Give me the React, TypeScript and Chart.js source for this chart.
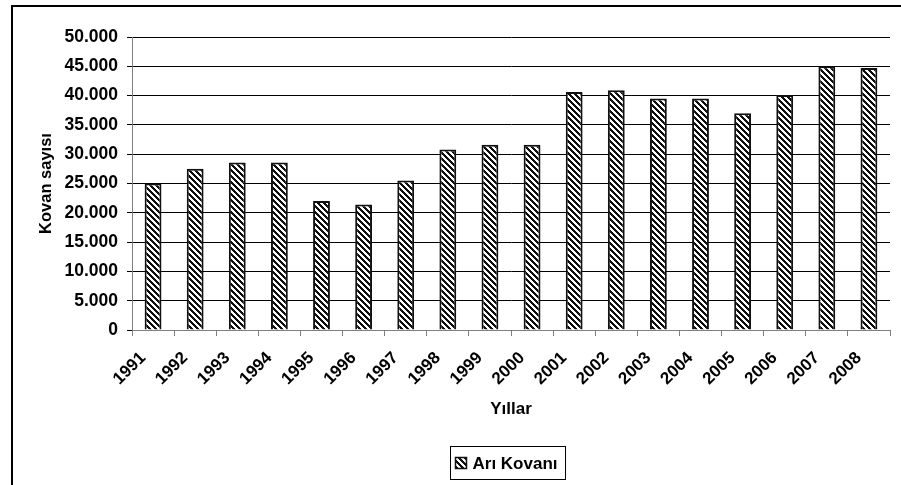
import React, { useEffect, useRef } from "react";
import { Chart, registerables } from "chart.js";

Chart.register(...registerables);

const years = ["1991","1992","1993","1994","1995","1996","1997","1998","1999","2000","2001","2002","2003","2004","2005","2006","2007","2008"];
const hives = [25000,27500,28600,28600,22000,21400,25500,30800,31600,31600,40600,40900,39500,39500,37000,40100,45000,44700];
const seriesName = "Arı Kovanı";
const xTitle = "Yıllar";
const yTitle = "Kovan sayısı";

function makePattern(): CanvasPattern | string {
  const n = 6;
  const c = document.createElement("canvas");
  c.width = n;
  c.height = n;
  const g = c.getContext("2d");
  if (!g) return "#555";
  const img = g.createImageData(n, n);
  for (let y = 0; y < n; y++) {
    for (let x = 0; x < n; x++) {
      const dark = ((x - y + 2 * n) % n) < 3;
      const i = (y * n + x) * 4;
      const v = dark ? 15 : 255;
      img.data[i] = v;
      img.data[i + 1] = v;
      img.data[i + 2] = v;
      img.data[i + 3] = 255;
    }
  }
  g.putImageData(img, 0, 0);
  const p = g.createPattern(c, "repeat");
  return p || "#555";
}

const fmt = (v: number) => {
  const s = String(Math.round(v));
  return s.replace(/\B(?=(\d{3})+(?!\d))/g, ".");
};

const FONT = "'Liberation Sans', Arial, sans-serif";

export default function App() {
  const ref = useRef<HTMLCanvasElement | null>(null);
  useEffect(() => {
    document.body.style.margin = "0";
    const canvas = ref.current;
    if (!canvas) return;
    const pattern = makePattern();

    const framePlugin = {
      id: "frame",
      beforeDraw(chart: any) {
        const ctx = chart.ctx;
        ctx.save();
        ctx.fillStyle = "#fff";
        ctx.fillRect(0, 0, chart.width, chart.height);
        ctx.strokeStyle = "#000";
        ctx.lineWidth = 2;
        ctx.beginPath();
        ctx.moveTo(12, chart.height);
        ctx.lineTo(12, 6);
        ctx.lineTo(chart.width, 6);
        ctx.stroke();
        ctx.restore();
      },
      afterDraw(chart: any) {
        const ctx = chart.ctx;
        const ca = chart.chartArea;
        ctx.save();
        ctx.font = `bold 17px ${FONT}`;
        const tw = ctx.measureText(seriesName).width;
        const mk = 11;
        const padL = 5, gap = 6, padR = 8;
        const w = padL + mk + gap + tw + padR;
        const h = 33;
        const cx = (ca.left + ca.right) / 2 - 3;
        const x0 = Math.round(cx - w / 2) + 0.5;
        const y0 = 446.5;
        ctx.strokeStyle = "#000";
        ctx.lineWidth = 1;
        ctx.strokeRect(x0, y0, w, h);
        const my = y0 + h / 2 - mk / 2;
        ctx.fillStyle = pattern as any;
        ctx.fillRect(x0 + padL, my, mk, mk);
        ctx.lineWidth = 1.5;
        ctx.strokeStyle = "#111";
        ctx.strokeRect(x0 + padL, my, mk, mk);
        ctx.fillStyle = "#000";
        ctx.textBaseline = "middle";
        ctx.textAlign = "left";
        ctx.fillText(seriesName, x0 + padL + mk + gap, y0 + h / 2 + 1);
        ctx.restore();
      },
    };

    const chart = new Chart(canvas, {
      type: "bar",
      data: {
        labels: years,
        datasets: [
          {
            label: seriesName,
            data: hives,
            backgroundColor: pattern as any,
            borderColor: "#111",
            borderWidth: 2,
            categoryPercentage: 1,
            barPercentage: 0.4,
          },
        ],
      },
      options: {
        responsive: false,
        animation: false,
        devicePixelRatio: 1,
        layout: { padding: { left: 37, right: 11, top: 37, bottom: 65 } },
        plugins: {
          legend: { display: false },
          tooltip: { enabled: false },
        },
        scales: {
          x: {
            offset: true,
            grid: {
              display: true,
              offset: true,
              drawOnChartArea: false,
              drawTicks: true,
              tickLength: 6,
              color: "#808080",
              lineWidth: 1,
            },
            border: { display: true, color: "#808080", width: 1 },
            ticks: {
              color: "#000",
              font: { family: FONT, size: 17, weight: "bold" },
              minRotation: 45,
              maxRotation: 45,
              autoSkip: false,
              padding: 2,
              callback: (_v: any, i: number) => years[i] + "   ",
            },
            title: {
              display: true,
              text: xTitle,
              color: "#000",
              font: { family: FONT, size: 17, weight: "bold" },
              padding: 0,
            },
            afterFit(scale: any) {
              scale.height = 90;
            },
          },
          y: {
            min: 0,
            max: 50000,
            grid: {
              color: "#000",
              lineWidth: 1,
              tickLength: 5,
              drawTicks: true,
            },
            border: { display: true, color: "#808080", width: 1 },
            ticks: {
              stepSize: 5000,
              color: "#000",
              padding: 9,
              font: { family: FONT, size: 17.5, weight: "bold" },
              callback: (v: any) => fmt(Number(v)),
            },
            title: {
              display: true,
              text: yTitle,
              color: "#000",
              font: { family: FONT, size: 16.5, weight: "bold" },
              padding: 0,
            },
            afterFit(scale: any) {
              scale.width = 95;
            },
          },
        },
      },
      plugins: [framePlugin],
    });
    return () => chart.destroy();
  }, []);
  return (
    <div style={{ width: 901, height: 485, position: "relative", background: "#fff" }}>
      <canvas ref={ref} width={901} height={485} style={{ display: "block", width: 901, height: 485 }} />
    </div>
  );
}
